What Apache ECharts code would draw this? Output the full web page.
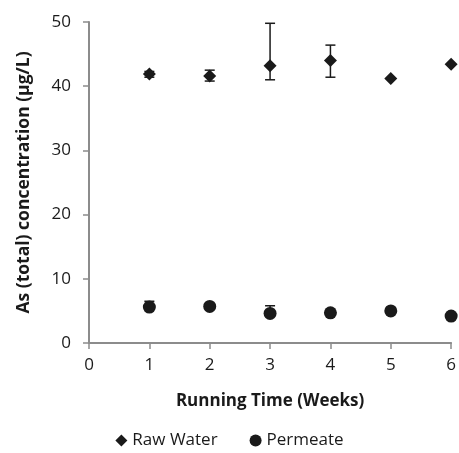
<!DOCTYPE html>
<html>
<head>
<meta charset="utf-8">
<script src="https://cdn.jsdelivr.net/npm/echarts@6/dist/echarts.min.js"></script>
<style>html,body{margin:0;padding:0;background:#fff}#c{width:459px;height:453px}</style>
</head>
<body>
<div id="c"></div>
<script>
var weeks = [1, 2, 3, 4, 5, 6];
var rawWater = [41.9, 41.6, 43.2, 44.0, 41.2, 43.4];
var rawLow = [41.4, 40.8, 41.0, 41.4, 41.2, 43.4];
var rawHigh = [42.3, 42.5, 49.8, 46.4, 41.2, 43.4];
var permeate = [5.6, 5.7, 4.6, 4.7, 5.0, 4.2];
var permLow = [5.6, 5.7, 4.6, 4.7, 5.0, 4.2];
var permHigh = [6.5, 5.7, 5.8, 4.7, 5.0, 4.2];
var xTicks = [0, 1, 2, 3, 4, 5, 6];
var yTicks = [0, 10, 20, 30, 40, 50];

var FONT = '"Open Sans", "Noto Sans", sans-serif';
var INK = '#1a1a1a';
var AXIS = '#8c8c8c';

function errData(low, high) {
  return weeks.map(function (w, i) { return [w, low[i], high[i]]; });
}
function errRender(params, api) {
  var x = api.value(0), lo = api.value(1), hi = api.value(2);
  if (lo === hi) return null;
  var p1 = api.coord([x, hi]);
  var p2 = api.coord([x, lo]);
  var hw = 5;
  var style = { stroke: INK, lineWidth: 1.5 };
  return {
    type: 'group',
    children: [
      { type: 'line', shape: { x1: p1[0], y1: p1[1], x2: p2[0], y2: p2[1] }, style: style },
      { type: 'line', shape: { x1: p1[0] - hw, y1: p1[1], x2: p1[0] + hw, y2: p1[1] }, style: style },
      { type: 'line', shape: { x1: p2[0] - hw, y1: p2[1], x2: p2[0] + hw, y2: p2[1] }, style: style }
    ]
  };
}

var chart = echarts.init(document.getElementById('c'));
chart.setOption({
  animation: false,
  textStyle: { fontFamily: FONT },
  grid: { left: 89, right: 7, top: 22, bottom: 110, containLabel: false },
  legend: {
    top: 427,
    left: 'center',
    itemGap: 32,
    itemWidth: 12,
    itemHeight: 12,
    textStyle: { fontFamily: FONT, fontSize: 17, color: INK, padding: [0, 0, 0, 0] },
    data: [
      { name: 'Raw Water', icon: 'diamond' },
      { name: 'Permeate', icon: 'circle' }
    ]
  },
  xAxis: {
    type: 'value',
    min: 0, max: 6, interval: 1,
    name: 'Running Time (Weeks)',
    nameLocation: 'middle',
    nameGap: 50,
    nameTextStyle: { fontFamily: FONT, fontSize: 17, fontWeight: 'bold', color: INK },
    axisLine: { lineStyle: { color: AXIS, width: 2 } },
    axisTick: { show: true, length: 6, lineStyle: { color: AXIS, width: 1.5 } },
    axisLabel: { fontSize: 17, color: INK, margin: 14,
      formatter: function (v) { return xTicks.indexOf(v) >= 0 ? String(v) : ''; } },
    splitLine: { show: false }
  },
  yAxis: {
    type: 'value',
    min: 0, max: 50, interval: 10,
    name: 'As (total) concentration (µg/L)',
    nameLocation: 'middle',
    nameGap: 56,
    nameTextStyle: { fontFamily: FONT, fontSize: 17.5, fontWeight: 'bold', color: INK },
    axisLine: { show: true, lineStyle: { color: AXIS, width: 2 } },
    axisTick: { show: true, length: 6, lineStyle: { color: AXIS, width: 1.5 } },
    axisLabel: { fontSize: 17, color: INK, margin: 18,
      formatter: function (v) { return yTicks.indexOf(v) >= 0 ? String(v) : ''; } },
    splitLine: { show: false }
  },
  series: [
    { type: 'custom', name: 'rawErr', renderItem: errRender, data: errData(rawLow, rawHigh), z: 1, silent: true },
    { type: 'custom', name: 'permErr', renderItem: errRender, data: errData(permLow, permHigh), z: 1, silent: true },
    {
      type: 'scatter', name: 'Raw Water', symbol: 'diamond', symbolSize: 13, z: 3,
      itemStyle: { color: INK, opacity: 1 },
      data: weeks.map(function (w, i) { return [w, rawWater[i]]; })
    },
    {
      type: 'scatter', name: 'Permeate', symbol: 'circle', symbolSize: 13, z: 3,
      itemStyle: { color: INK, opacity: 1 },
      data: weeks.map(function (w, i) { return [w, permeate[i]]; })
    }
  ]
});
</script>
</body>
</html>
